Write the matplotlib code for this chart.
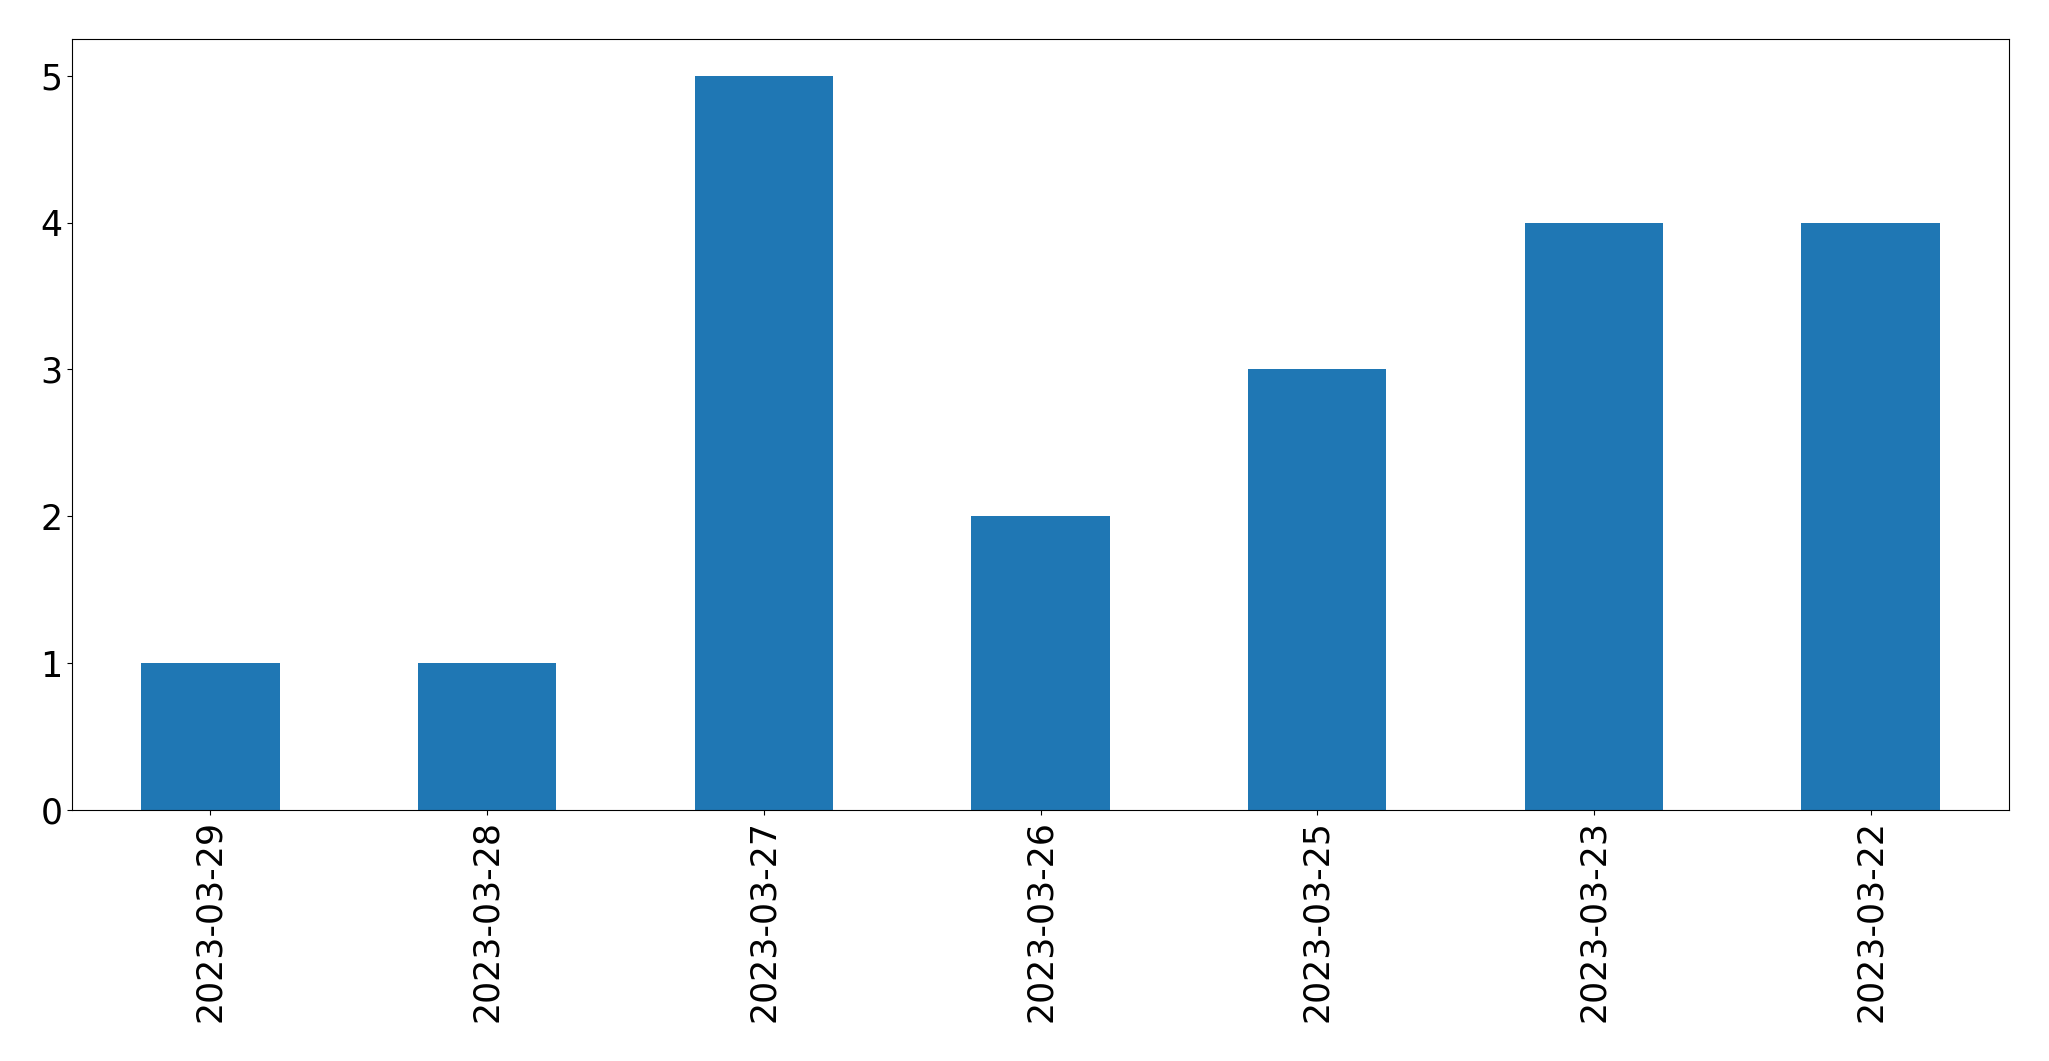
import matplotlib
matplotlib.use("Agg")
import matplotlib.pyplot as plt
import pandas as pd

dates = ["2023-03-29", "2023-03-28", "2023-03-27", "2023-03-26",
         "2023-03-25", "2023-03-23", "2023-03-22"]
counts = [1, 1, 5, 2, 3, 4, 4]

s = pd.Series(counts, index=dates)

fig = plt.figure(figsize=(20.49, 10.61), dpi=100)
ax = fig.add_axes([72 / 2049, 1 - 810 / 1061, (2009 - 72) / 2049, (810 - 39) / 1061])
s.plot.bar(ax=ax, color="#1f77b4")
ax.tick_params(axis="both", labelsize=25)
fig.savefig("out.png", dpi=100)
